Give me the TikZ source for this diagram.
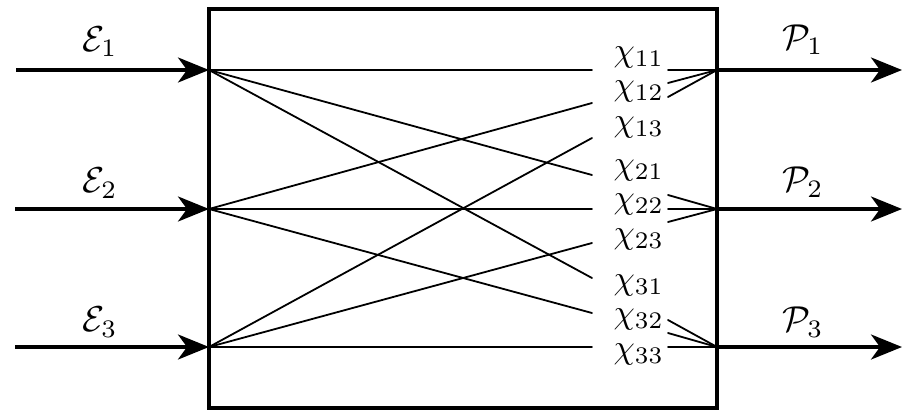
\documentclass[tikz,border=0pt]{standalone}
\usetikzlibrary{arrows.meta}
\begin{document}
\begin{tikzpicture}[x=1pt,y=-1pt,
  wire/.style={line width=1.8pt,line cap=round},
  arr/.style={line width=3.5pt,-{Stealth[length=31pt,width=25pt,inset=9pt]}},
  lab/.style={inner sep=0pt,scale=3.6},
  chi/.style={inner sep=0pt,scale=3.4,anchor=base west},
  boxstyle/.style={draw,line width=4.5pt,minimum width=508pt,minimum height=399pt,inner sep=0pt}]
\useasboundingbox (0,0) rectangle (904,412);
% box
\node[boxstyle] (box) at (463,208.5) {};
% inputs and outputs
\coordinate (s1) at (16,70);  \coordinate (i1) at (209,70);
\coordinate (s2) at (15,209); \coordinate (i2) at (209,209);
\coordinate (s3) at (15,347); \coordinate (i3) at (209,347);
\coordinate (o1) at (717,70);  \coordinate (f1) at (902,70);
\coordinate (o2) at (717,209); \coordinate (f2) at (902,209);
\coordinate (o3) at (717,347); \coordinate (f3) at (902,347);
\draw[arr] (s1) -- (i1);
\draw[arr] (s2) -- (i2);
\draw[arr] (s3) -- (i3);
\draw[arr] (o1) -- (f1);
\draw[arr] (o2) -- (f2);
\draw[arr] (o3) -- (f3);
% labels
\node[lab] (e1) at (100,42) {$\mathcal{E}_1$};
\node[lab] (e2) at (100,183) {$\mathcal{E}_2$};
\node[lab] (e3) at (100,322) {$\mathcal{E}_3$};
\node[lab] (p1) at (803,40) {$\mathcal{P}_1$};
\node[lab] (p2) at (803,182) {$\mathcal{P}_2$};
\node[lab] (p3) at (803,322) {$\mathcal{P}_3$};
% chi labels
\node[chi] (c11) at (613,61) {$\chi_{11}$};
\node[chi] (c12) at (613,95) {$\chi_{12}$};
\node[chi] (c13) at (613,131) {$\chi_{13}$};
\node[chi] (c21) at (613,174) {$\chi_{21}$};
\node[chi] (c22) at (613,208) {$\chi_{22}$};
\node[chi] (c23) at (613,243) {$\chi_{23}$};
\node[chi] (c31) at (613,289) {$\chi_{31}$};
\node[chi] (c32) at (613,323) {$\chi_{32}$};
\node[chi] (c33) at (613,358) {$\chi_{33}$};
% wire ends at chi labels (left)
\coordinate (a11) at (592,70);
\coordinate (a21) at (592,175);
\coordinate (a31) at (592,278);
\coordinate (a12) at (592,103);
\coordinate (a22) at (592,209);
\coordinate (a32) at (592,313);
\coordinate (a13) at (592,138);
\coordinate (a23) at (592,243);
\coordinate (a33) at (592,347);
\draw[wire] (i1) -- (a11);
\draw[wire] (i1) -- (a21);
\draw[wire] (i1) -- (a31);
\draw[wire] (i2) -- (a12);
\draw[wire] (i2) -- (a22);
\draw[wire] (i2) -- (a32);
\draw[wire] (i3) -- (a13);
\draw[wire] (i3) -- (a23);
\draw[wire] (i3) -- (a33);
% wire starts at chi labels (right)
\coordinate (b11) at (668,70);
\coordinate (b12) at (668,83);
\coordinate (b13) at (668,97);
\coordinate (b21) at (668,195);
\coordinate (b22) at (668,209);
\coordinate (b23) at (668,222);
\coordinate (b31) at (668,320);
\coordinate (b32) at (668,333);
\coordinate (b33) at (668,347);
\draw[wire] (b11) -- (o1);
\draw[wire] (b12) -- (o1);
\draw[wire] (b13) -- (o1);
\draw[wire] (b21) -- (o2);
\draw[wire] (b22) -- (o2);
\draw[wire] (b23) -- (o2);
\draw[wire] (b31) -- (o3);
\draw[wire] (b32) -- (o3);
\draw[wire] (b33) -- (o3);
\end{tikzpicture}
\end{document}
